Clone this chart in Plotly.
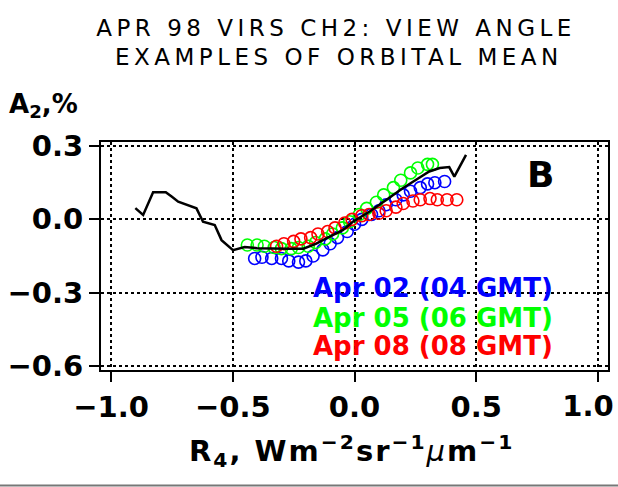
import plotly.graph_objects as go

# ---- data ----
mean_x = [-0.90, -0.868, -0.827, -0.775, -0.751, -0.724, -0.649, -0.622, -0.574, -0.546, -0.499,
          -0.451, -0.40, -0.335, -0.27, -0.21, -0.157, -0.102, -0.048, -0.007, 0.061, 0.13,
          0.198, 0.253, 0.307, 0.35, 0.389, 0.41, 0.458]
mean_y = [0.046, 0.018, 0.111, 0.111, 0.093, 0.072, 0.045, -0.010, -0.023, -0.085, -0.126,
          -0.113, -0.118, -0.120, -0.120, -0.120, -0.099, -0.071, -0.044, -0.010, 0.031, 0.079,
          0.127, 0.162, 0.196, 0.210, 0.214, 0.175, 0.264]

blue_x = [-0.41, -0.38, -0.34, -0.30, -0.27, -0.23, -0.20, -0.17, -0.13, -0.10, -0.07, -0.03,
          0.00, 0.03, 0.07, 0.10, 0.13, 0.17, 0.20, 0.23, 0.27, 0.30, 0.33, 0.37]
blue_y = [-0.160, -0.155, -0.160, -0.160, -0.170, -0.175, -0.170, -0.150, -0.125, -0.100, -0.075, -0.050,
          -0.020, 0.000, 0.020, 0.035, 0.060, 0.080, 0.100, 0.115, 0.130, 0.145, 0.150, 0.155]

green_x = [-0.44, -0.40, -0.37, -0.33, -0.30, -0.26, -0.23, -0.19, -0.16, -0.12, -0.09, -0.05,
           -0.02, 0.02, 0.05, 0.09, 0.12, 0.16, 0.19, 0.23, 0.26, 0.30, 0.32]
green_y = [-0.105, -0.105, -0.110, -0.115, -0.120, -0.120, -0.115, -0.110, -0.095, -0.080, -0.060, -0.035,
           -0.010, 0.020, 0.045, 0.070, 0.100, 0.130, 0.160, 0.190, 0.210, 0.225, 0.225]

red_x = [-0.32, -0.29, -0.25, -0.22, -0.18, -0.15, -0.11, -0.08, -0.04, -0.01, 0.03, 0.06,
         0.10, 0.13, 0.17, 0.20, 0.24, 0.27, 0.31, 0.34, 0.38, 0.42]
red_y = [-0.110, -0.100, -0.090, -0.080, -0.075, -0.060, -0.050, -0.035, -0.015, 0.000, 0.015, 0.020,
         0.025, 0.035, 0.050, 0.065, 0.075, 0.080, 0.085, 0.080, 0.080, 0.080]

x_ticks = [-1.0, -0.5, 0.0, 0.5, 1.0]
x_ticktext = ["\u22121.0", "\u22120.5", "0.0", "0.5", "1.0"]
y_ticks = [0.3, 0.0, -0.3, -0.6]
y_ticktext = ["0.3", "0.0", "\u22120.3", "\u22120.6"]

legend_labels = ["Apr 02 (04 GMT)", "Apr 05 (06 GMT)", "Apr 08 (08 GMT)"]
series_colors = ["#0000ff", "#00ff00", "#ff0000"]

W, H = 618, 487
L, R, T, B = 101, 10, 142, 117
PW, PH = W - L - R, H - T - B
X_RANGE = [-1.041, 1.041]


def px(x):
    return (x - L) / PW


def py(y):
    return (H - B - y) / PH


fig = go.Figure()
for xs, ys, c in [(blue_x, blue_y, series_colors[0]),
                  (green_x, green_y, series_colors[1]),
                  (red_x, red_y, series_colors[2])]:
    fig.add_trace(go.Scatter(x=xs, y=ys, mode="markers",
                             marker=dict(symbol="circle-open", size=12, color=c,
                                         line=dict(width=1.6, color=c)),
                             showlegend=False, hoverinfo="skip"))
fig.add_trace(go.Scatter(x=mean_x, y=mean_y, mode="lines",
                         line=dict(color="black", width=2.5), showlegend=False,
                         hoverinfo="skip"))

bold_font = dict(family="DejaVu Sans", size=29, color="black", weight="bold")

axis_common = dict(showline=True, mirror=True, linecolor="black", linewidth=2,
                   ticks="outside", ticklen=10, tickwidth=2, tickcolor="black",
                   showgrid=True, gridcolor="black", gridwidth=1.5, griddash="dot",
                   zeroline=False, tickfont=bold_font)

# main x axis: all ticks/grid, labels for all but the last tick;
# the last label ("1.0") is drawn by an overlaid axis nudged left so it stays on the page
main_x_text = x_ticktext[:-1] + [""]

fig.update_layout(
    width=W, height=H,
    margin=dict(l=L, r=R, t=T, b=B, autoexpand=False),
    paper_bgcolor="white", plot_bgcolor="white",
    showlegend=False,
    xaxis=dict(range=X_RANGE, tickmode="array", tickvals=x_ticks,
               ticktext=main_x_text, **axis_common),
    xaxis2=dict(range=X_RANGE, overlaying="x", side="bottom", anchor="y",
                tickmode="array", tickvals=x_ticks[-1:], ticktext=x_ticktext[-1:],
                ticks="outside", ticklen=10, tickwidth=2, tickcolor="black",
                ticklabelshift=-10, showgrid=False, zeroline=False, showline=False,
                tickfont=bold_font),
    yaxis=dict(range=[-0.6165, 0.3165], tickmode="array", tickvals=y_ticks,
               ticktext=y_ticktext, **axis_common),
)
# an invisible carrier trace so the overlaid axis is drawn
fig.add_trace(go.Scatter(x=[x_ticks[-1]], y=[y_ticks[0]], xaxis="x2", mode="markers",
                         marker=dict(opacity=0), showlegend=False, hoverinfo="skip"))

ann = []
# title lines (index 0, 1 get letter spacing)
ann.append(dict(text="APR 98 VIRS CH2: VIEW ANGLE", x=px(336), y=py(28),
                font=dict(family="DejaVu Sans", size=23, color="black")))
ann.append(dict(text="EXAMPLES OF ORBITAL MEAN", x=px(338.5), y=py(56.5),
                font=dict(family="DejaVu Sans", size=23, color="black")))
ann.append(dict(text="A<sub>2</sub>,%", x=px(7), y=py(106), xanchor="left",
                font=dict(family="DejaVu Sans", size=26, color="black", weight="bold")))
ann.append(dict(text="R<sub>4</sub>, Wm<sup>\u22122</sup>sr<sup>\u22121</sup>"
                     "<span style='font-weight:normal;font-style:italic'>\u03bc</span>m<sup>\u22121</sup>",
                x=px(351), y=py(451),
                font=dict(family="DejaVu Sans", size=29, color="black", weight="bold")))
ann.append(dict(text="B", x=px(540.5), y=py(174),
                font=dict(family="DejaVu Sans", size=36, color="black", weight="bold")))
for lab, c, yc in zip(legend_labels, series_colors, [288, 317.5, 346]):
    ann.append(dict(text=lab, x=px(433), y=py(yc),
                    font=dict(family="DejaVu Sans", size=26, color=c, weight="bold")))

for a in ann:
    a.update(xref="paper", yref="paper", showarrow=False)
    a.setdefault("xanchor", "center")
    a.setdefault("yanchor", "middle")
fig.update_layout(annotations=ann)

# thin gray rule at the very bottom of the picture
fig.add_shape(type="line", xref="paper", yref="paper",
              x0=px(0), x1=px(W), y0=py(485.5), y1=py(485.5),
              line=dict(color="#777777", width=2))

post = """
document.body.style.margin = '0';
document.body.style.padding = '0';
var gd = document.getElementById('{plot_id}');
function applyLS(){
  gd.querySelectorAll('g.annotation').forEach(function(g){
    var i = g.getAttribute('data-index');
    var t = g.querySelector('text');
    if (!t) { return; }
    if (i === '0' || i === '1') { t.style.letterSpacing = '4.5px'; }
    if (i === '3') { t.style.letterSpacing = '2px'; }
  });
}
applyLS();
if (gd.on) { gd.on('plotly_afterplot', applyLS); }
"""

fig.write_html("out.html", post_script=post, config={"displayModeBar": False})
